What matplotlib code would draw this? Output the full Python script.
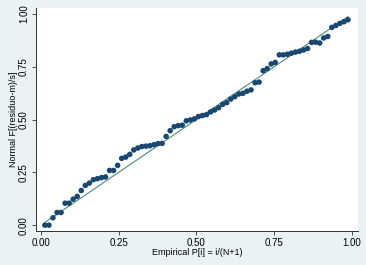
import numpy as np
import matplotlib
matplotlib.use("Agg")
import matplotlib.pyplot as plt

# Standardized normal probability plot (pnorm style)

N = 76
empirical_p = [i / (N + 1) for i in range(1, N + 1)]
normal_f = [
    0.000, 0.000, 0.035, 0.060, 0.060, 0.104, 0.104, 0.123, 0.136, 0.164,
    0.188, 0.199, 0.215, 0.220, 0.225, 0.228, 0.259, 0.259, 0.283, 0.316,
    0.322, 0.335, 0.356, 0.365, 0.372, 0.374, 0.376, 0.381, 0.386, 0.387,
    0.420, 0.447, 0.466, 0.471, 0.473, 0.494, 0.498, 0.503, 0.514, 0.519,
    0.523, 0.536, 0.545, 0.556, 0.572, 0.580, 0.597, 0.608, 0.621, 0.624,
    0.634, 0.640, 0.674, 0.677, 0.731, 0.741, 0.763, 0.770, 0.806, 0.806,
    0.809, 0.814, 0.819, 0.823, 0.829, 0.836, 0.865, 0.866, 0.862, 0.886,
    0.893, 0.936, 0.945, 0.955, 0.963, 0.972,
]
ticks = [0.00, 0.25, 0.50, 0.75, 1.00]
tick_labels = ["0.00", "0.25", "0.50", "0.75", "1.00"]

BG = "#EAF2F3"
NAVY = "#1a476f"
LINE = "#4d8c7c"

plt.rcParams["font.family"] = ["Liberation Sans", "DejaVu Sans"]

fig = plt.figure(figsize=(3.66, 2.65), dpi=100, facecolor=BG)
ax = fig.add_axes([0.098, 0.128, 0.880, 0.842])
ax.set_facecolor("white")

ref = [empirical_p[0], empirical_p[-1]]
ax.plot(ref, ref, color=LINE, linewidth=0.8, zorder=2)
ax.scatter(empirical_p, normal_f, s=16, color=NAVY, edgecolors="none", zorder=3)

ax.set_xlim(-0.016, 1.019)
ax.set_ylim(-0.028, 1.028)
ax.set_xticks(ticks)
ax.set_xticklabels(tick_labels)
ax.set_yticks(ticks)
ax.set_yticklabels(tick_labels, rotation=90, va="center")
ax.tick_params(axis="both", length=3, width=0.6, color="#333333",
               labelsize=7, pad=2)

for side in ["top", "right"]:
    ax.spines[side].set_visible(False)
for side in ["left", "bottom"]:
    ax.spines[side].set_linewidth(0.7)
    ax.spines[side].set_color("#333333")

ax.set_xlabel("Empirical P[i] = i/(N+1)", fontsize=6.5, labelpad=0)
ax.set_ylabel("Normal F[(residuo-m)/s]", fontsize=6.5, labelpad=1)

fig.savefig("out.png", dpi=100, facecolor=BG)
